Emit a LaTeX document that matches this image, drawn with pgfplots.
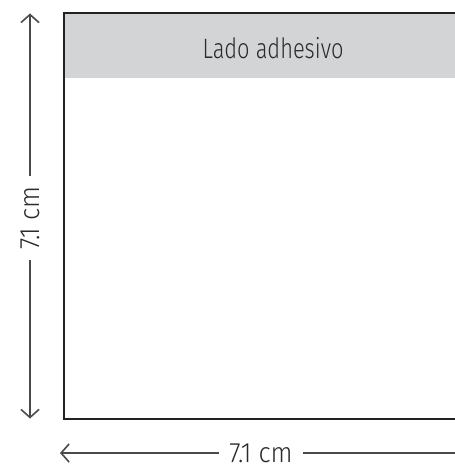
\documentclass[border=0pt]{standalone}
\usepackage{fontspec}
\setmainfont{Fira Sans}[UprightFont=* Light]
\newfontfamily\condfont{Fira Sans}[UprightFont=* Light, FakeStretch=0.78]
\newfontfamily\labfont{Fira Sans}[UprightFont=* Light, FakeStretch=0.92]
\usepackage{pgfplots}
\pgfplotsset{compat=1.18}
\usetikzlibrary{arrows.meta}
\definecolor{band}{HTML}{D3D4D6}
\definecolor{edge}{HTML}{222222}
\definecolor{arr}{HTML}{4A4A4A}
\definecolor{txt}{HTML}{2A2A2A}
\begin{document}
\begin{tikzpicture}
\begin{axis}[name=ax, scale only axis, width=227.5pt, height=234.5pt,
  xmin=0, xmax=455, ymin=0, ymax=469, y dir=reverse, hide axis, clip=false]
% adhesive band
\addplot[fill=band, draw=none] coordinates {(64,13) (455,13) (455,78) (64,78) (64,13)};
% square outline (right side beyond the picture)
\addplot[edge, line width=1pt] coordinates {(455,13) (64,13) (64,419) (455,419)};
% vertical dimension arrow
\addplot[arr, line width=0.8pt, {Straight Barb[length=4pt,width=9pt]}-{Straight Barb[length=4pt,width=9pt]}] coordinates {(30,13.5) (30,418.5)};
% horizontal dimension arrow
\addplot[arr, line width=0.8pt, {Straight Barb[length=4pt,width=9pt]}-] coordinates {(60,453) (455,453)};
\node[txt, font=\condfont\fontsize{14}{16}\selectfont] at (axis cs:273,48) {Lado adhesivo};
\node[txt, fill=white, rotate=90, inner sep=5pt, font=\labfont\fontsize{14}{16}\selectfont] at (axis cs:30,218) {7.1 cm};
\node[txt, fill=white, inner sep=5pt, font=\labfont\fontsize{14}{16}\selectfont] at (axis cs:261,453) {7.1 cm};
\end{axis}
\pgfresetboundingbox
\useasboundingbox (ax.south west) rectangle (ax.north east);
\end{tikzpicture}
\end{document}
